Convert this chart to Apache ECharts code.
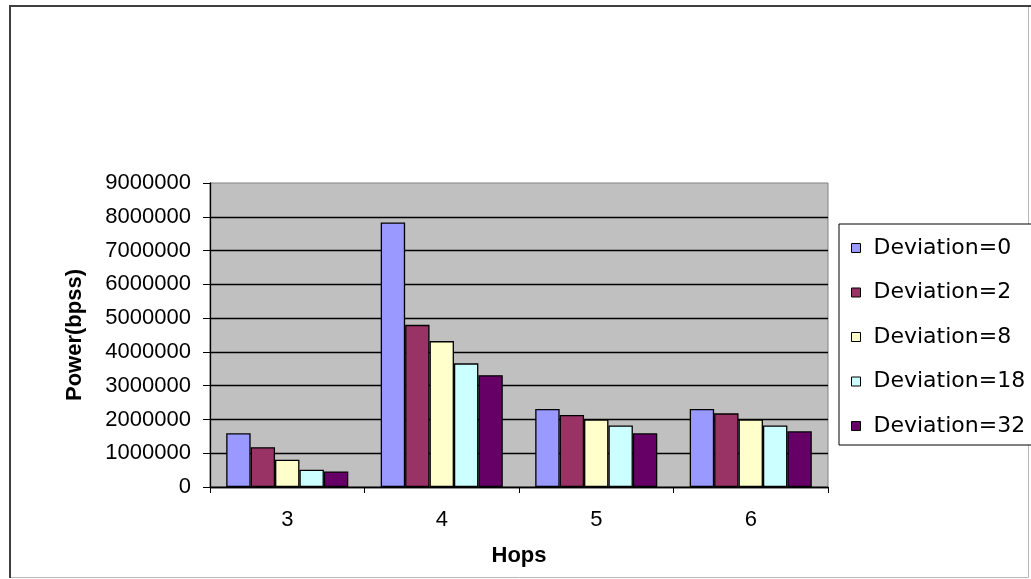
<!DOCTYPE html>
<html>
<head>
<meta charset="utf-8">
<script src="https://cdn.jsdelivr.net/npm/echarts@6/dist/echarts.min.js"></script>
<style>
  html, body { margin: 0; padding: 0; background: #ffffff; }
  #chart { width: 1031px; height: 579px; }
</style>
</head>
<body>
<div id="chart"></div>
<script>
// Hop counts on the category axis
const hops = ['3', '4', '5', '6'];

// Power (bpss) per deviation setting, one value per hop count
const deviation0  = [1590000, 7830000, 2310000, 2310000];
const deviation2  = [1180000, 4800000, 2130000, 2180000];
const deviation8  = [810000, 4320000, 2000000, 2000000];
const deviation18 = [510000, 3660000, 1820000, 1820000];
const deviation32 = [460000, 3310000, 1590000, 1650000];

const seriesNames = ['Deviation=0', 'Deviation=2', 'Deviation=8', 'Deviation=18', 'Deviation=32'];
const seriesValues = [deviation0, deviation2, deviation8, deviation18, deviation32];
const seriesColors = ['#9999FF', '#993366', '#FFFFCC', '#CCFFFF', '#660066'];

// Value axis range
const yMin = 0;
const yMax = 9000000;
const yStep = 1000000;

const chart = echarts.init(document.getElementById('chart'), null, { renderer: 'canvas' });

const series = seriesNames.map((name, i) => ({
  name: name,
  type: 'bar',
  data: seriesValues[i],
  barGap: '0%',
  barCategoryGap: '21%',
  itemStyle: { color: seriesColors[i], borderColor: '#000000', borderWidth: 1.3 },
  emphasis: { disabled: true },
  animation: false
}));

chart.setOption({
  backgroundColor: '#ffffff',
  animation: false,
  grid: {
    left: 210, right: 203, top: 183, bottom: 92,
    show: true,
    backgroundColor: '#C0C0C0',
    borderColor: '#808080',
    borderWidth: 1
  },
  legend: {
    orient: 'vertical',
    left: 839,
    top: 224,
    padding: [13, 60, 8, 12],
    itemWidth: 9,
    itemHeight: 9,
    itemGap: 22.5,
    icon: 'rect',
    backgroundColor: '#ffffff',
    borderColor: '#000000',
    borderWidth: 1,
    borderRadius: 0,
    selectedMode: false,
    itemStyle: { borderColor: '#000000', borderWidth: 1 },
    textStyle: {
      fontFamily: 'DejaVu Sans',
      fontSize: 22,
      lineHeight: 22,
      color: '#000000',
      padding: [0, 0, 0, 8]
    },
    data: seriesNames
  },
  xAxis: {
    type: 'category',
    data: hops,
    name: 'Hops',
    nameLocation: 'middle',
    nameGap: 58,
    nameTextStyle: { fontFamily: 'Liberation Sans', fontSize: 22, fontWeight: 'bold', color: '#000000' },
    axisLine: { lineStyle: { color: '#000000', width: 1.3 } },
    axisTick: { show: true, length: 6, lineStyle: { color: '#000000' } },
    axisLabel: { margin: 22, fontFamily: 'Liberation Sans', fontSize: 22, color: '#000000' },
    splitLine: { show: false }
  },
  yAxis: {
    type: 'value',
    min: yMin,
    max: yMax,
    interval: yStep,
    name: 'Power(bpss)',
    nameLocation: 'middle',
    nameRotate: 90,
    nameGap: 124,
    nameTextStyle: { fontFamily: 'Liberation Sans', fontSize: 22, fontWeight: 'bold', color: '#000000' },
    axisLine: { show: true, lineStyle: { color: '#000000', width: 1.3 } },
    axisTick: { show: true, length: 7, lineStyle: { color: '#000000' } },
    axisLabel: {
      margin: 19,
      fontFamily: 'Liberation Sans',
      fontSize: 22,
      color: '#000000',
      formatter: (v) => String(v)
    },
    splitLine: { show: true, showMaxLine: false, lineStyle: { color: '#000000', width: 1.3 } }
  },
  graphic: [
    {
      type: 'polyline',
      silent: true,
      shape: { points: [[10, 578], [10, 6], [1031, 6]] },
      style: { stroke: '#404040', lineWidth: 2, fill: null }
    },
    {
      type: 'polyline',
      silent: true,
      shape: { points: [[11, 577.5], [1028.5, 577.5], [1028.5, 7]] },
      style: { stroke: '#b8b8b8', lineWidth: 1, fill: null }
    }
  ],
  series: series
});
</script>
</body>
</html>
